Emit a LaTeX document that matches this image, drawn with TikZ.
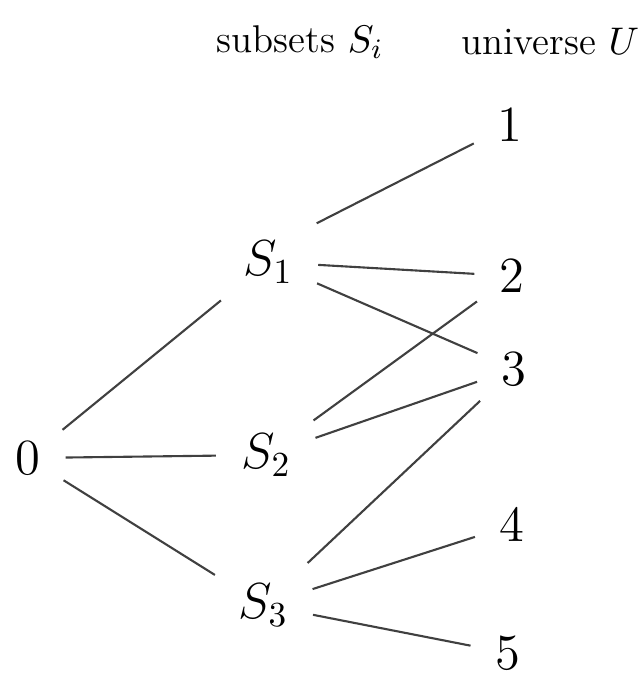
\documentclass[tikz,border=0pt]{standalone}
\usepackage{amsmath}
\usetikzlibrary{positioning}

\begin{document}
\begin{tikzpicture}[
  x=0.01cm, y=-0.01cm,
  vert/.style={font=\Large, inner sep=3pt},
  hdr/.style={font=\fontsize{11}{13}\selectfont, inner sep=1pt},
  link/.style={draw=black!75, semithick, shorten >=4pt, shorten <=4pt}
]
  \useasboundingbox (0,0) rectangle (639,675);

  % column headers
  \node[hdr] (hsub) at (300,42) {subsets $S_i$};
  \node[hdr] (huni) at (550,42) {universe $U$};

  % root, subsets and elements
  \node[vert] (root) at (28,458) {$0$};
  \node[vert] (s1) at (268,262) {$S_1$};
  \node[vert] (s2) at (266,455) {$S_2$};
  \node[vert] (s3) at (263,605) {$S_3$};
  \node[vert] (e1) at (510,125) {$1$};
  \node[vert] (e2) at (512,276) {$2$};
  \node[vert] (e3) at (514,369) {$3$};
  \node[vert] (e4) at (512,525) {$4$};
  \node[vert] (e5) at (508,653) {$5$};

  % root to subsets
  \draw[link] (root) -- (s1);
  \draw[link] (root) -- (s2);
  \draw[link] (root) -- (s3);

  % subsets to elements
  \draw[link] (s1.north east) -- (e1);
  \draw[link] (s1) -- (e2);
  \draw[link] (s1) -- (e3);
  \draw[link] (s2) -- (e2);
  \draw[link] (s2) -- (e3);
  \draw[link] (s3) -- (e3);
  \draw[link] (s3) -- (e4);
  \draw[link] (s3) -- (e5);
\end{tikzpicture}
\end{document}
